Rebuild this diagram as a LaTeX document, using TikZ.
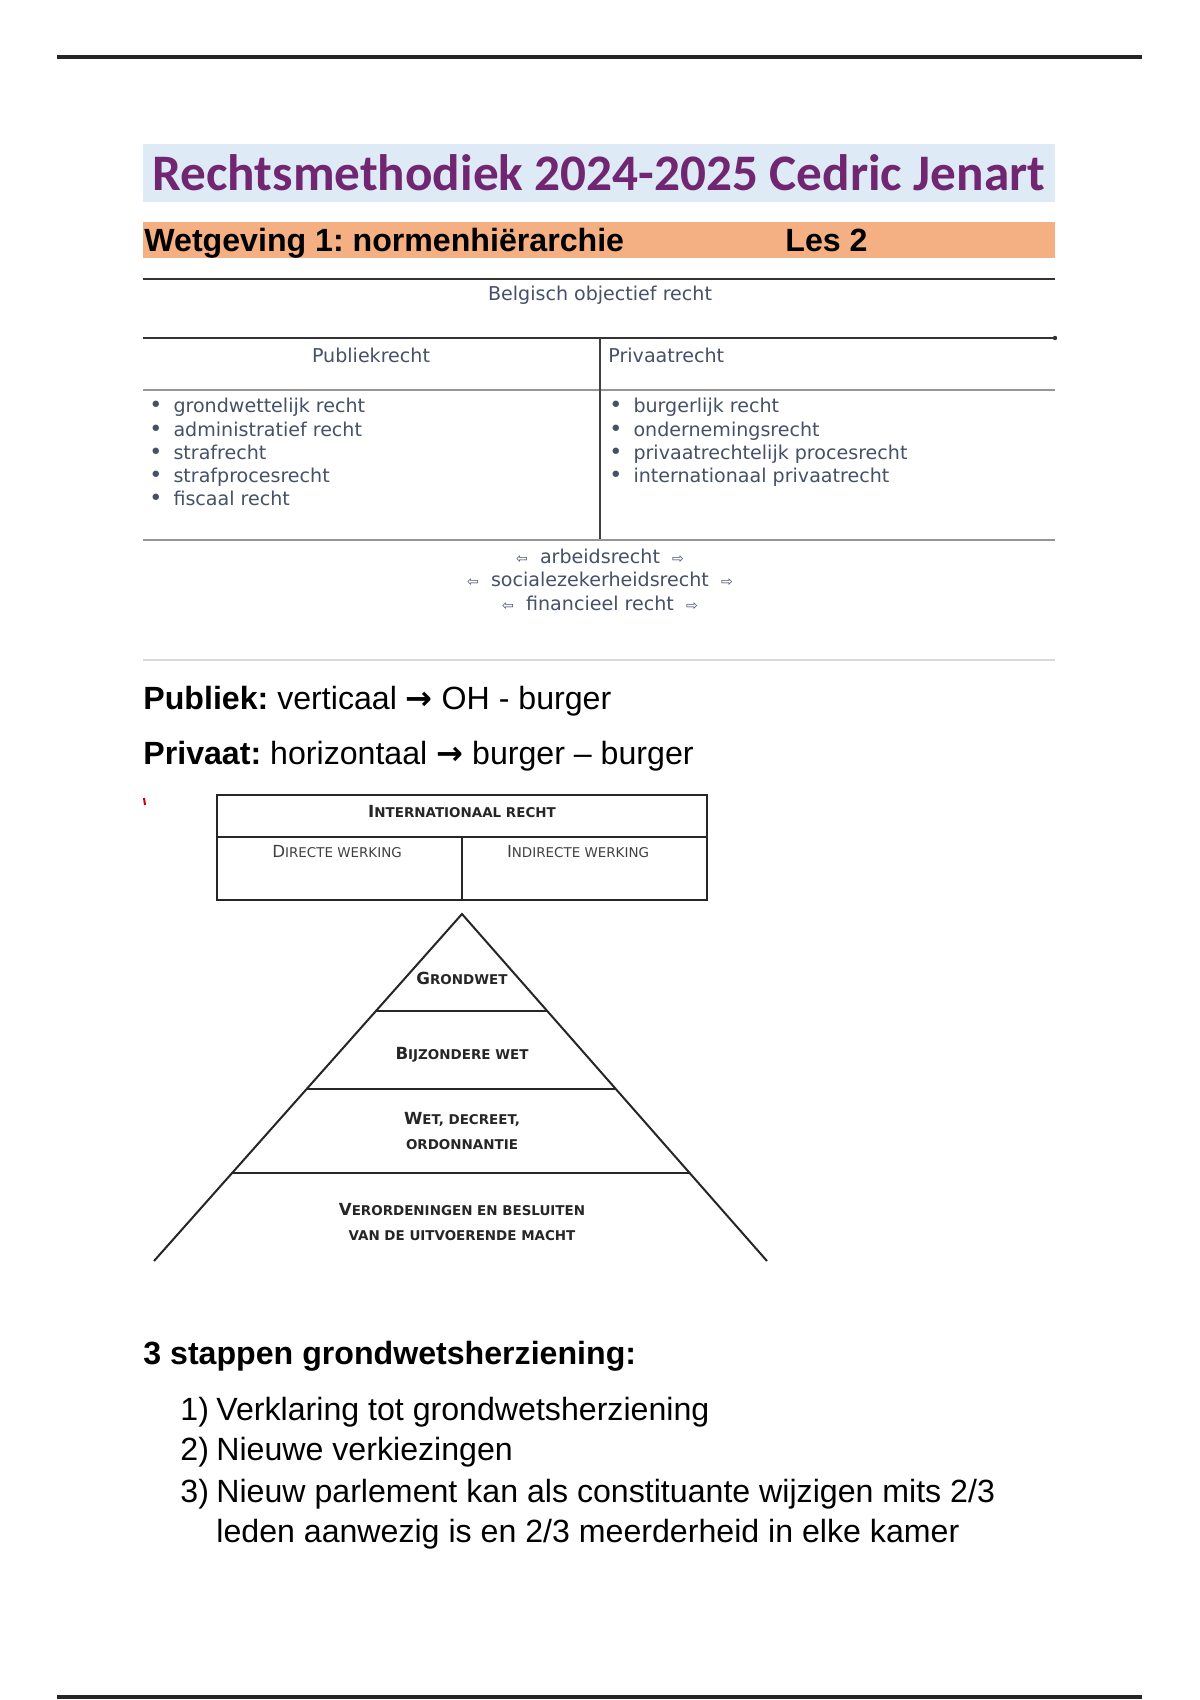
\documentclass[tikz,border=0pt]{standalone}
\usepackage{fontspec}
\setmainfont{Liberation Sans}
\newfontfamily\titlefont{Carlito}
\newfontfamily\tablefont{DejaVu Sans}
\usetikzlibrary{calc, positioning}
\definecolor{titlepurple}{RGB}{112, 38, 112}
\definecolor{titleblue}{RGB}{222, 234, 246}
\definecolor{lesorange}{RGB}{244, 176, 131}
\definecolor{tablegray}{RGB}{70, 80, 102}
\definecolor{rulegray}{RGB}{150, 150, 150}
\frenchspacing
% fake small caps: big first letter, rest in small capitals
\newcommand{\bigsc}[1]{{\fontsize{8.3}{12.4}\selectfont #1}}
\newcommand{\smallsc}[1]{{\fontsize{6.7}{12.4}\selectfont #1}}
\newcommand{\bul}{\makebox[12pt][l]{\fontsize{11}{11.5}\selectfont •}}
\newcommand{\warr}[1]{{\fontsize{7}{7}\selectfont #1}}
\newcommand{\relarr}{{\tablefont\bfseries →}}

\begin{document}
\begin{tikzpicture}[x=0.0175cm, y=-0.0175cm,
  body/.style={font=\fontsize{16}{19.8}\selectfont, anchor=west, inner sep=0pt},
  cell/.style={font=\tablefont\fontsize{9.5}{11.5}\selectfont, text=tablegray, inner sep=0pt},
  pyrlabel/.style={font=\tablefont\bfseries, text=black!85, align=center, inner sep=0pt},
  pyrline/.style={line width=1pt, black!85}]
  \useasboundingbox (0,0) rectangle (1200,1700);

  % page rules
  \draw[line width=1.6pt, black!85] (57,57) -- (1142,57);
  \draw[line width=1.6pt, black!85] (57,1697) -- (1142,1697);

  % title
  \fill[titleblue] (143,144) rectangle (1055,202);
  \node[font=\titlefont\bfseries\fontsize{25.5}{28}\selectfont, text=titlepurple, inner sep=0pt] (title) at (599,173) {Rechtsmethodiek 2024-2025 Cedric Jenart};

  % lesson bar
  \fill[lesorange] (143,222) rectangle (1055,258);
  \node[body, anchor=base west, font=\bfseries\fontsize{16}{19.8}\selectfont] (topic) at (144,251) {Wetgeving 1: normenhiërarchie};
  \node[body, anchor=base west, font=\bfseries\fontsize{16}{19.8}\selectfont] (les) at (785,251) {Les 2};

  % table: Belgisch objectief recht
  \draw[line width=1pt, black!80] (143,279) -- (1055,279);
  \node[cell] (belgisch) at (600,295) {Belgisch objectief recht};
  \draw[line width=1pt, black!80] (143,338) -- (1055,338);
  \fill[black!80] (1055,338) circle (2.2);
  \node[cell] (publiek) at (371,355) {Publiekrecht};
  \node[cell, anchor=west] (privaat) at (608,355) {Privaatrecht};
  \draw[line width=1.4pt, rulegray] (143,390) -- (1055,390);
  \draw[line width=0.6pt, black!75] (600,338) -- (600,540);
  \node[cell, anchor=north west, align=left] (publist) at (149,398) {\bul grondwettelijk recht\\ \bul administratief recht\\ \bul strafrecht\\ \bul strafprocesrecht\\ \bul fiscaal recht};
  \node[cell, anchor=north west, align=left] (privlist) at (609,398) {\bul burgerlijk recht\\ \bul ondernemingsrecht\\ \bul privaatrechtelijk procesrecht\\ \bul internationaal privaatrecht};
  \draw[line width=0.8pt, rulegray] (143,540) -- (1055,540);
  \node[cell] (arbeid) at (600,556) {\warr{⇦}\ \ arbeidsrecht\ \ \warr{⇨}};
  \node[cell] (sociaal) at (600,579) {\warr{⇦}\ \ socialezekerheidsrecht\ \ \warr{⇨}};
  \node[cell] (financieel) at (600,603) {\warr{⇦}\ \ financieel recht\ \ \warr{⇨}};
  \draw[line width=0.8pt, black!15] (143,660) -- (1055,660);

  % publiek / privaat
  \node[body] (publiekrel) at (143,701) {\textbf{Publiek:} verticaal \relarr{} OH - burger};
  \node[body] (privaatrel) at (143,756) {\textbf{Privaat:} horizontaal \relarr{} burger – burger};

  % internationaal recht
  \draw[red!80!black, line width=1pt] (144,798) -- (145,805);
  \draw[line width=1.3pt, black!85] (217,795) rectangle (707,900);
  \draw[line width=1.3pt, black!85] (217,837) -- (707,837);
  \draw[line width=1pt, black!85] (462,837) -- (462,900);
  \node[pyrlabel] (internationaal) at (462,812) {\bigsc{I}\smallsc{NTERNATIONAAL RECHT}};
  \node[pyrlabel, font=\tablefont, text=black!75] (direct) at (337,852) {\bigsc{D}\smallsc{IRECTE WERKING}};
  \node[pyrlabel, font=\tablefont, text=black!75] (indirect) at (578,852) {\bigsc{I}\smallsc{NDIRECTE WERKING}};

  % piramide
  \coordinate (apex) at (462,914);
  \coordinate (baseL) at (154,1261);
  \coordinate (baseR) at (767,1261);
  \draw[pyrline] (baseL) -- (apex) -- (baseR);
  \draw[pyrline] ($(apex)!0.2795!(baseL)$) -- ($(apex)!0.2795!(baseR)$);
  \draw[pyrline] ($(apex)!0.5043!(baseL)$) -- ($(apex)!0.5043!(baseR)$);
  \draw[pyrline] ($(apex)!0.7464!(baseL)$) -- ($(apex)!0.7464!(baseR)$);
  \node[pyrlabel] (grondwet) at (462,978) {\bigsc{G}\smallsc{RONDWET}};
  \node[pyrlabel] (bijzonder) at (462,1055) {\bigsc{B}\smallsc{IJZONDERE WET}};
  \node[pyrlabel] (wet) at (462,1131) {\bigsc{W}\smallsc{ET, DECREET,}\\ \smallsc{ORDONNANTIE}};
  \node[pyrlabel] (verordening) at (462,1222) {\bigsc{V}\smallsc{ERORDENINGEN EN BESLUITEN}\\ \smallsc{VAN DE UITVOERENDE MACHT}};

  % grondwetsherziening
  \node[body, font=\bfseries\fontsize{16}{19.8}\selectfont] (stappen) at (143,1356) {3 stappen grondwetsherziening:};
  \node[body] (nr1) at (180,1412) {1)};
  \node[body] (stap1) at (216,1412) {Verklaring tot grondwetsherziening};
  \node[body] (nr2) at (180,1452) {2)};
  \node[body] (stap2) at (216,1452) {Nieuwe verkiezingen};
  \node[body] (nr3) at (180,1494) {3)};
  \node[body, align=left] (stap3) at (216,1514) {Nieuw parlement kan als constituante wijzigen mits 2/3\\leden aanwezig is en 2/3 meerderheid in elke kamer};
\end{tikzpicture}
\end{document}
